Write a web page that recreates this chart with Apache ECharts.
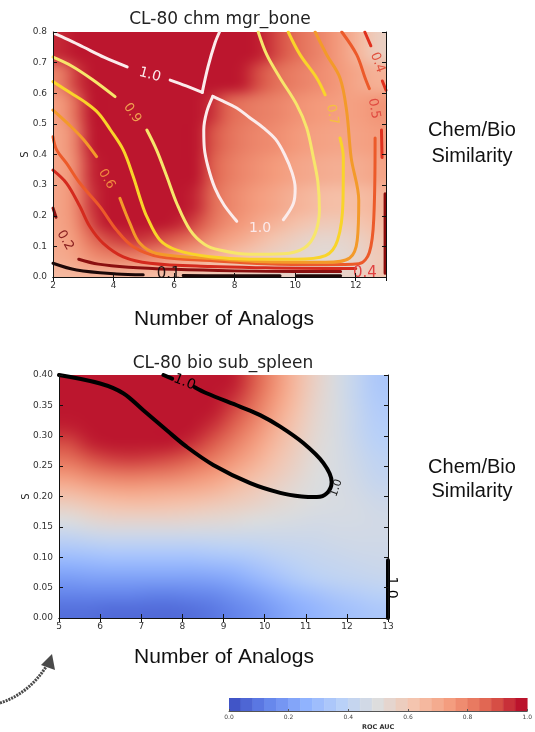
<!DOCTYPE html>
<html>
<head>
<meta charset="utf-8">
<script src="https://cdn.jsdelivr.net/npm/echarts/dist/echarts.min.js"></script>
<style>
html, body { margin: 0; padding: 0; background: #fff; }
#chart { width: 535px; height: 732px; }
</style>
</head>
<body>
<div id="chart"></div>
<script>
// ---------- top panel: CL-80 chm mgr_bone ----------
const topXEdges = [2, 2.5, 3, 3.5, 4, 4.5, 5, 5.5, 6, 6.5, 7, 7.5, 8, 8.5, 9, 9.5, 10, 10.5, 11, 11.5, 12, 12.5, 13]
const topYEdges = [0, 0.025, 0.05, 0.1, 0.15, 0.2, 0.3, 0.4, 0.5, 0.6, 0.7, 0.8]
// ROC AUC, rows from top (0.7-0.8) to bottom (0-0.025)
const topField = [
  [0.95, 1, 1, 1, 1, 1, 1, 1, 1, 1, 1, 1, 1, 0.97, 0.92, 0.87, 0.83, 0.8, 0.76, 0.71, 0.64, 0.57],
  [0.8, 0.92, 1, 1, 1, 1, 1, 1, 1, 1, 1, 1, 0.97, 0.9, 0.85, 0.82, 0.8, 0.78, 0.76, 0.73, 0.7, 0.68],
  [0.74, 0.84, 0.99, 1, 1, 1, 1, 1, 1, 1, 0.94, 0.86, 0.83, 0.81, 0.8, 0.78, 0.76, 0.75, 0.74, 0.73, 0.74, 0.76],
  [0.72, 0.8, 0.97, 1, 1, 1, 1, 1, 1, 1, 0.89, 0.84, 0.81, 0.79, 0.78, 0.76, 0.74, 0.73, 0.72, 0.72, 0.73, 0.74],
  [0.72, 0.78, 0.95, 1, 1, 1, 1, 1, 1, 0.98, 0.87, 0.82, 0.79, 0.77, 0.75, 0.73, 0.71, 0.7, 0.69, 0.69, 0.7, 0.72],
  [0.72, 0.78, 0.93, 1, 1, 1, 1, 1, 1, 0.95, 0.85, 0.8, 0.77, 0.74, 0.72, 0.69, 0.67, 0.65, 0.64, 0.64, 0.65, 0.67],
  [0.72, 0.77, 0.9, 0.98, 1, 1, 1, 0.99, 0.95, 0.9, 0.83, 0.78, 0.75, 0.71, 0.68, 0.65, 0.62, 0.6, 0.59, 0.6, 0.62, 0.65],
  [0.71, 0.75, 0.84, 0.9, 0.93, 0.94, 0.92, 0.89, 0.86, 0.82, 0.77, 0.73, 0.7, 0.66, 0.62, 0.59, 0.56, 0.54, 0.54, 0.55, 0.58, 0.62],
  [0.7, 0.73, 0.78, 0.81, 0.82, 0.82, 0.8, 0.78, 0.75, 0.72, 0.69, 0.66, 0.63, 0.6, 0.57, 0.55, 0.53, 0.52, 0.52, 0.53, 0.56, 0.6],
  [0.68, 0.7, 0.72, 0.73, 0.73, 0.72, 0.71, 0.69, 0.67, 0.65, 0.63, 0.61, 0.6, 0.58, 0.56, 0.55, 0.54, 0.53, 0.53, 0.54, 0.56, 0.6],
  [0.65, 0.66, 0.66, 0.66, 0.66, 0.65, 0.64, 0.63, 0.62, 0.61, 0.6, 0.6, 0.59, 0.58, 0.57, 0.56, 0.55, 0.55, 0.55, 0.56, 0.58, 0.62]
]

// contour lines of the top panel (x = analogs, y = S)
const top10a = [[2.0, 0.797], [2.5, 0.775], [3.0, 0.751], [3.7, 0.717], [4.45, 0.686]]
const top10b = [[5.87, 0.643], [6.4, 0.624], [6.93, 0.603]]
const top10c = [[6.93, 0.603], [7.12, 0.686], [7.35, 0.764], [7.5, 0.8]]
const top10d = [[7.28, 0.59], [7.08, 0.54], [6.98, 0.48], [7.0, 0.42], [7.12, 0.36], [7.35, 0.29], [7.65, 0.235], [8.07, 0.182]]
const top10e = [[7.28, 0.59], [7.6, 0.575], [8.07, 0.552], [8.5, 0.52], [8.95, 0.487], [9.35, 0.45], [9.65, 0.4], [9.9, 0.34], [10.0, 0.29], [9.94, 0.24], [9.61, 0.187]]
const top09a = [[2.0, 0.718], [2.6, 0.69], [3.3, 0.645], [4.05, 0.589]]
const top09b = [[5.1, 0.48], [5.42, 0.415], [5.76, 0.328], [6.09, 0.24], [6.53, 0.153], [7.0, 0.107], [7.5, 0.088], [8.5, 0.074], [9.6, 0.076], [10.3, 0.095], [10.65, 0.14], [10.8, 0.22], [10.75, 0.31], [10.6, 0.39], [10.38, 0.487], [10.05, 0.563], [9.5, 0.65], [9.06, 0.726], [8.78, 0.8]]
const top08a = [[2.0, 0.638], [2.6, 0.6], [3.0, 0.575], [3.5, 0.535], [3.9, 0.48], [4.32, 0.415], [4.65, 0.328], [4.9, 0.25], [5.1, 0.197], [5.53, 0.121], [6.09, 0.088], [7.19, 0.066], [8.5, 0.058], [10, 0.058], [11.0, 0.07], [11.4, 0.12], [11.58, 0.25], [11.59, 0.39], [11.48, 0.454]]
const top08b = [[10.99, 0.595], [10.71, 0.65], [10.16, 0.726], [9.77, 0.8]]
const top06a = [[2.0, 0.545], [2.5, 0.5], [3.0, 0.45], [3.44, 0.393]]
const top06b = [[4.21, 0.257], [4.54, 0.175], [4.87, 0.11], [5.43, 0.077], [7.19, 0.061], [9, 0.05], [11, 0.048], [11.8, 0.062], [12.05, 0.12], [12.1, 0.25], [11.85, 0.389], [11.7, 0.542], [11.48, 0.65], [11.04, 0.726], [10.66, 0.8]]
const top05a = [[2.0, 0.458], [2.12, 0.415], [2.45, 0.371], [2.89, 0.306], [3.55, 0.23], [4.1, 0.153], [4.65, 0.099], [5.53, 0.066], [7.19, 0.054], [9, 0.043], [11, 0.04], [12.1, 0.043], [12.45, 0.08], [12.6, 0.2], [12.64, 0.454]]
const top05b = [[12.45, 0.615], [12.31, 0.65], [12.03, 0.726], [11.54, 0.8]]
const top04a = [[2.0, 0.349], [2.45, 0.306], [2.89, 0.23], [3.22, 0.164], [3.66, 0.11], [4.32, 0.066], [5.2, 0.045], [7.19, 0.034], [9, 0.03], [11, 0.028], [12.0, 0.028]]
const top04b = [[12.3, 0.8], [12.5, 0.755]]
const top04c = [[12.88, 0.64], [13.0, 0.61]]
const top04d = [[12.85, 0.48], [12.87, 0.39]]
const top03a = [[12.97, 0.272], [12.97, 0.1], [12.97, 0.012]]
const top02a = [[2.0, 0.225], [2.1, 0.195]]
const top02b = [[2.85, 0.058], [3.5, 0.042], [4.5, 0.032], [6, 0.025], [8, 0.02], [10, 0.018], [11.5, 0.018]]
const top01a = [[2.0, 0.045], [2.78, 0.023], [4.1, 0.01], [4.98, 0.007]]
const top01b = [[6.3, 0.005], [7.5, 0.004], [9.5, 0.004]]
const top01c = [[10.05, 0.004], [11.5, 0.004]]
const topLabels = [[5.2, 0.66, '1.0'], [8.84, 0.16, '1.0'], [4.62, 0.535, '0.9'], [3.77, 0.32, '0.6'], [11.22, 0.53, '0.7'], [12.6, 0.55, '0.5'], [12.72, 0.7, '0.4'], [2.4, 0.12, '0.2'], [5.82, 0.008, '0.1'], [12.3, 0.012, '0.4']]

// ---------- bottom panel: CL-80 bio sub_spleen ----------
const botXEdges = [5, 5.5, 6, 6.5, 7, 7.5, 8, 8.5, 9, 9.5, 10, 10.5, 11, 11.5, 12, 12.5, 13]
const botYEdges = [0, 0.025, 0.05, 0.075, 0.1, 0.125, 0.15, 0.175, 0.2, 0.225, 0.25, 0.275, 0.3, 0.325, 0.35, 0.375, 0.4]
const botField = [
  [1, 1, 1, 1, 1, 1, 1, 1, 0.97, 0.88, 0.77, 0.66, 0.56, 0.48, 0.41, 0.34],
  [1, 1, 1, 1, 1, 1, 1, 1, 0.94, 0.85, 0.75, 0.65, 0.55, 0.48, 0.41, 0.35],
  [0.99, 1, 1, 1, 1, 1, 1, 0.97, 0.9, 0.82, 0.72, 0.63, 0.54, 0.48, 0.42, 0.36],
  [0.96, 1, 1, 1, 1, 1, 0.98, 0.93, 0.86, 0.78, 0.69, 0.61, 0.53, 0.48, 0.42, 0.37],
  [0.9, 0.96, 0.99, 1, 1, 0.98, 0.94, 0.88, 0.81, 0.74, 0.66, 0.59, 0.52, 0.48, 0.43, 0.38],
  [0.84, 0.89, 0.92, 0.93, 0.92, 0.9, 0.87, 0.82, 0.76, 0.7, 0.63, 0.57, 0.51, 0.48, 0.44, 0.4],
  [0.76, 0.8, 0.82, 0.83, 0.82, 0.81, 0.78, 0.75, 0.7, 0.65, 0.6, 0.55, 0.5, 0.48, 0.45, 0.41],
  [0.67, 0.7, 0.72, 0.73, 0.72, 0.71, 0.7, 0.68, 0.64, 0.6, 0.56, 0.52, 0.49, 0.48, 0.46, 0.43],
  [0.58, 0.61, 0.63, 0.64, 0.64, 0.63, 0.62, 0.6, 0.58, 0.56, 0.53, 0.51, 0.49, 0.48, 0.47, 0.45],
  [0.5, 0.53, 0.55, 0.55, 0.55, 0.55, 0.54, 0.53, 0.52, 0.5, 0.49, 0.48, 0.47, 0.47, 0.47, 0.46],
  [0.42, 0.44, 0.45, 0.45, 0.45, 0.45, 0.45, 0.45, 0.45, 0.45, 0.45, 0.45, 0.45, 0.46, 0.46, 0.46],
  [0.34, 0.35, 0.36, 0.36, 0.36, 0.36, 0.36, 0.37, 0.38, 0.39, 0.41, 0.42, 0.43, 0.44, 0.45, 0.45],
  [0.26, 0.27, 0.28, 0.28, 0.28, 0.28, 0.28, 0.29, 0.3, 0.33, 0.36, 0.39, 0.41, 0.42, 0.43, 0.44],
  [0.19, 0.2, 0.2, 0.2, 0.2, 0.2, 0.2, 0.21, 0.23, 0.27, 0.31, 0.35, 0.38, 0.4, 0.41, 0.42],
  [0.13, 0.13, 0.13, 0.13, 0.12, 0.12, 0.13, 0.14, 0.17, 0.2, 0.24, 0.28, 0.31, 0.34, 0.36, 0.38],
  [0.08, 0.08, 0.07, 0.07, 0.07, 0.07, 0.08, 0.1, 0.13, 0.16, 0.2, 0.24, 0.27, 0.3, 0.32, 0.34]
]
const bot10a = [[5.0, 0.4], [6.0, 0.386], [6.56, 0.37], [7.05, 0.342], [7.62, 0.309], [8.1, 0.282], [8.75, 0.252], [9.65, 0.222], [10.38, 0.206], [10.9, 0.2], [11.27, 0.199], [11.51, 0.205], [11.63, 0.224], [11.43, 0.255], [10.94, 0.288], [10.38, 0.315], [9.89, 0.334], [9.4, 0.348], [8.59, 0.37], [8.3, 0.38]]
const bot10b = [[7.54, 0.4], [7.75, 0.394]]
const bot10c = [[13.0, 0.095], [13.0, 0.0]]
const botLabels = [[8.05, 0.388, '1.0'], [11.74, 0.214, '1.0'], [13.08, 0.05, '1.0']]

// ---------- colour bar ----------
const cbLevels = [0, 0.04, 0.08, 0.12, 0.16, 0.2, 0.24, 0.28, 0.32, 0.36, 0.4, 0.44, 0.48, 0.52, 0.56, 0.6, 0.64, 0.68, 0.72, 0.76, 0.8, 0.84, 0.88, 0.92, 0.96, 1]

// coolwarm colour map
const cwStops = [[0, [59, 76, 192]], [0.125, [98, 130, 234]], [0.25, [141, 176, 254]], [0.375, [184, 208, 249]], [0.5, [221, 221, 221]], [0.625, [245, 196, 173]], [0.75, [244, 154, 123]], [0.875, [222, 96, 77]], [1, [180, 4, 38]]]
function coolwarm (v) {
  v = Math.max(0, Math.min(1, v))
  for (let i = 1; i < cwStops.length; i++) {
    if (v <= cwStops[i][0]) {
      const a = cwStops[i - 1], b = cwStops[i]
      const t = (v - a[0]) / (b[0] - a[0])
      const c = a[1].map((ch, k) => Math.round(ch + (b[1][k] - ch) * t))
      return 'rgb(' + c.join(',') + ')'
    }
  }
  return 'rgb(180,4,38)'
}
const fieldColor = v => coolwarm(Math.min(v, 0.975))

// soft-edged picture of a cell grid, used as the fill of each cell mark
function fieldImage (xe, ye, rows, W, H, blur) {
  const dx = Math.min(...xe.slice(1).map((v, i) => v - xe[i]))
  const dy = Math.min(...ye.slice(1).map((v, i) => v - ye[i]))
  const nx = Math.round((xe[xe.length - 1] - xe[0]) / dx)
  const ny = Math.round((ye[ye.length - 1] - ye[0]) / dy)
  const pad = 3
  const small = document.createElement('canvas')
  small.width = nx + 2 * pad
  small.height = ny + 2 * pad
  const sc = small.getContext('2d')
  const n = rows.length
  for (let j = -pad; j < ny + pad; j++) {
    const jj = Math.max(0, Math.min(ny - 1, j))
    const yc = ye[ye.length - 1] - (jj + 0.5) * dy
    let k = 0
    while (k < ye.length - 2 && yc >= ye[k + 1]) k++
    const r = n - 1 - k
    for (let i = -pad; i < nx + pad; i++) {
      const ii = Math.max(0, Math.min(nx - 1, i))
      const xc = xe[0] + (ii + 0.5) * dx
      let c = 0
      while (c < xe.length - 2 && xc >= xe[c + 1]) c++
      sc.fillStyle = fieldColor(rows[r][c])
      sc.fillRect(i + pad, j + pad, 1, 1)
    }
  }
  const sxp = W / nx, syp = H / ny
  const big = document.createElement('canvas')
  big.width = Math.round(W + 2 * pad * sxp)
  big.height = Math.round(H + 2 * pad * syp)
  const bc = big.getContext('2d')
  bc.imageSmoothingEnabled = true
  bc.imageSmoothingQuality = 'high'
  bc.drawImage(small, 0, 0, big.width, big.height)
  const out = document.createElement('canvas')
  out.width = big.width
  out.height = big.height
  const oc = out.getContext('2d')
  oc.filter = 'blur(' + blur + 'px)'
  oc.drawImage(big, 0, 0)
  return { canvas: out, offX: pad * sxp, offY: pad * syp }
}

function buildCells (xe, ye, rows) {
  const out = []
  const n = rows.length
  for (let r = 0; r < n; r++) {
    const j = n - 1 - r
    for (let i = 0; i < xe.length - 1; i++) {
      out.push([xe[i], xe[i + 1], ye[j], ye[j + 1], rows[r][i]])
    }
  }
  return out
}

function fieldSeries (xi, yi, xe, ye, rows, blur) {
  let img = null
  let origin = null
  return {
    type: 'custom', xAxisIndex: xi, yAxisIndex: yi, clip: true, silent: true, z: 1,
    encode: { x: [0, 1], y: [2, 3] },
    data: buildCells(xe, ye, rows),
    renderItem: function (params, api) {
      if (!img) {
        origin = api.coord([xe[0], ye[ye.length - 1]])
        const end = api.coord([xe[xe.length - 1], ye[0]])
        img = fieldImage(xe, ye, rows, end[0] - origin[0], end[1] - origin[1], blur)
      }
      const p0 = api.coord([api.value(0), api.value(3)])
      const p1 = api.coord([api.value(1), api.value(2)])
      const w = p1[0] - p0[0] + 0.6
      const h = p1[1] - p0[1] + 0.6
      return {
        type: 'image',
        style: {
          image: img.canvas, x: p0[0], y: p0[1], width: w, height: h,
          sx: p0[0] - origin[0] + img.offX, sy: p0[1] - origin[1] + img.offY, sWidth: w, sHeight: h
        }
      }
    }
  }
}

function bandSeries (xi, yi, cells) {
  return {
    type: 'custom', xAxisIndex: xi, yAxisIndex: yi, clip: true, silent: true, z: 1,
    encode: { x: [0, 1], y: [2, 3] },
    data: cells,
    renderItem: function (params, api) {
      const p0 = api.coord([api.value(0), api.value(3)])
      const p1 = api.coord([api.value(1), api.value(2)])
      const c = coolwarm(api.value(4))
      return {
        type: 'rect',
        shape: { x: p0[0], y: p0[1], width: p1[0] - p0[0], height: p1[1] - p0[1] },
        style: { fill: c, stroke: c, lineWidth: 0.6 }
      }
    }
  }
}

function contour (xi, yi, pts, color, width) {
  return {
    type: 'line', xAxisIndex: xi, yAxisIndex: yi, data: pts,
    symbol: 'none', showSymbol: false, smooth: 0.35, silent: true, z: 3,
    lineStyle: { color: color, width: width, cap: 'round' }
  }
}

// rotation (deg), colour, size for each contour label
const topLabelLook = [[-15, '#fbe9ea', 14], [0, '#fbe9ea', 14], [-55, '#f0a050', 13], [-60, '#f08a40', 13], [-80, '#f5c040', 13], [-80, '#e04a40', 13], [-70, '#e0503c', 13], [-60, '#8a2020', 13], [0, '#221111', 15], [0, '#e04040', 15]]
const botLabelLook = [[-22, '#000', 14], [70, '#222', 11], [-90, '#000', 14]]

function labelSeries (xi, yi, items, looks) {
  return {
    type: 'custom', xAxisIndex: xi, yAxisIndex: yi, clip: false, silent: true, z: 4,
    encode: { x: 0, y: 1 },
    data: items.map(d => [d[0], d[1]]),
    renderItem: function (params, api) {
      const p = api.coord([api.value(0), api.value(1)])
      const lk = looks[params.dataIndex]
      return {
        type: 'text', x: p[0], y: p[1], rotation: lk[0] * Math.PI / 180,
        style: {
          text: items[params.dataIndex][2], fill: lk[1],
          font: lk[2] + 'px "DejaVu Sans"',
          align: 'center', verticalAlign: 'middle'
        }
      }
    }
  }
}

const cbCells = cbLevels.slice(0, -1).map((lv, i) => [lv, cbLevels[i + 1], 0, 1, (lv + cbLevels[i + 1]) / 2])

const tickFont = { fontFamily: 'DejaVu Sans', fontSize: 9, color: '#333' }
const blackLine = { show: true, lineStyle: { color: '#111', width: 1 } }
const inTick = { show: true, inside: true, length: 4, lineStyle: { color: '#111' } }

function xAx (gi, pos, min, max, step, showLabel) {
  return {
    type: 'value', gridIndex: gi, position: pos, min: min, max: max, interval: step, z: 10,
    axisLine: blackLine, axisTick: inTick, splitLine: { show: false },
    axisLabel: Object.assign({ show: showLabel, margin: 4, showMaxLabel: step === 1 }, tickFont)
  }
}
function yAx (gi, pos, min, max, step, digits, nameGap) {
  const ax = {
    type: 'value', gridIndex: gi, position: pos, min: min, max: max, interval: step, z: 10,
    axisLine: blackLine, axisTick: inTick, splitLine: { show: false },
    axisLabel: Object.assign({ show: nameGap > 0, margin: 6, formatter: v => v.toFixed(digits) }, tickFont)
  }
  if (nameGap > 0) {
    ax.name = 'S'
    ax.nameLocation = 'middle'
    ax.nameGap = nameGap
    ax.nameMoveOverlap = false
    ax.nameTextStyle = { fontFamily: 'DejaVu Sans', fontSize: 10, color: '#222' }
  }
  return ax
}

const lbl = (x, y, text, size, family, extra) => ({
  type: 'text', x: x, y: y, silent: true,
  style: Object.assign({
    text: text, fill: '#111', font: size + 'px ' + family,
    textAlign: 'center', textVerticalAlign: 'middle'
  }, extra || {})
})

const chart = echarts.init(document.getElementById('chart'))
const option = {
  animation: false,
  backgroundColor: '#fff',
  grid: [
    { left: 53, top: 32, width: 333, height: 245 },
    { left: 59, top: 375, width: 329, height: 243 },
    { left: 229, top: 698, width: 301, height: 15 }
  ],
  xAxis: [
    xAx(0, 'bottom', 2, 13, 2, true),
    xAx(0, 'top', 2, 13, 2, false),
    xAx(1, 'bottom', 5, 13, 1, true),
    xAx(1, 'top', 5, 13, 1, false),
    {
      type: 'value', gridIndex: 2, min: 0, max: 1, interval: 0.2, z: 10,
      axisLine: { show: true, lineStyle: { color: '#555', width: 1 } },
      axisTick: { show: true, inside: true, length: 2, lineStyle: { color: '#555' } },
      splitLine: { show: false },
      axisLabel: { margin: 3, fontFamily: 'DejaVu Sans', fontSize: 6, color: '#444', formatter: v => v.toFixed(1) },
      name: 'ROC AUC', nameLocation: 'middle', nameGap: 13,
      nameTextStyle: { fontFamily: 'DejaVu Sans', fontSize: 6.5, fontWeight: 'bold', color: '#333' }
    }
  ],
  yAxis: [
    yAx(0, 'left', 0, 0.8, 0.1, 1, 23),
    yAx(0, 'right', 0, 0.8, 0.1, 1, 0),
    yAx(1, 'left', 0, 0.4, 0.05, 2, 28),
    yAx(1, 'right', 0, 0.4, 0.05, 2, 0),
    { type: 'value', gridIndex: 2, min: 0, max: 1, show: false }
  ],
  series: [
    fieldSeries(0, 0, topXEdges, topYEdges, topField, 6),
    contour(0, 0, top01a, '#1c0808', 3),
    contour(0, 0, top01b, '#1c0808', 3),
    contour(0, 0, top01c, '#1c0808', 3),
    contour(0, 0, top02a, '#8a1010', 3),
    contour(0, 0, top02b, '#8a1010', 3),
    contour(0, 0, top03a, '#8a0a0a', 3),
    contour(0, 0, top04a, '#d42a1e', 3),
    contour(0, 0, top04b, '#e0301e', 3),
    contour(0, 0, top04c, '#e0301e', 3),
    contour(0, 0, top04d, '#e0301e', 3),
    contour(0, 0, top05a, '#ec5a2a', 3),
    contour(0, 0, top05b, '#ec5a2a', 3),
    contour(0, 0, top06a, '#f39a2a', 3),
    contour(0, 0, top06b, '#f39a2a', 3),
    contour(0, 0, top08a, '#f9d42a', 3),
    contour(0, 0, top08b, '#f9d42a', 3),
    contour(0, 0, top09a, '#f7e66b', 3),
    contour(0, 0, top09b, '#f7e66b', 3),
    contour(0, 0, top10a, '#fbecec', 3),
    contour(0, 0, top10b, '#fbecec', 3),
    contour(0, 0, top10c, '#fbecec', 3),
    contour(0, 0, top10d, '#fbecec', 3),
    contour(0, 0, top10e, '#fbecec', 3),
    labelSeries(0, 0, topLabels, topLabelLook),
    fieldSeries(2, 2, botXEdges, botYEdges, botField, 6),
    contour(2, 2, bot10a, '#000', 4),
    contour(2, 2, bot10b, '#000', 4),
    contour(2, 2, bot10c, '#000', 4),
    labelSeries(2, 2, botLabels, botLabelLook),
    bandSeries(4, 4, cbCells)
  ],
  graphic: [
    lbl(220, 20, 'CL-80 chm mgr_bone', 17, '"DejaVu Sans"', { fill: '#222' }),
    lbl(223, 364, 'CL-80 bio sub_spleen', 17, '"DejaVu Sans"', { fill: '#222' }),
    lbl(224, 319, 'Number of Analogs', 21, '"Liberation Sans"'),
    lbl(224, 657, 'Number of Analogs', 21, '"Liberation Sans"'),
    lbl(472, 143, 'Chem/Bio\nSimilarity', 20, '"Liberation Sans"', { lineHeight: 26 }),
    lbl(472, 479, 'Chem/Bio\nSimilarity', 20, '"Liberation Sans"', { lineHeight: 24 }),
    {
      type: 'bezierCurve', silent: true,
      shape: { x1: 0, y1: 703, cpx1: 28, cpy1: 694, x2: 46, y2: 667 },
      style: { fill: null, stroke: '#4a4a4a', lineWidth: 3, lineDash: [2, 1] }
    },
    {
      type: 'polygon', silent: true,
      shape: { points: [[52, 654], [41, 665], [55, 670]] },
      style: { fill: '#4a4a4a' }
    }
  ]
}
chart.setOption(option)
</script>
</body>
</html>
